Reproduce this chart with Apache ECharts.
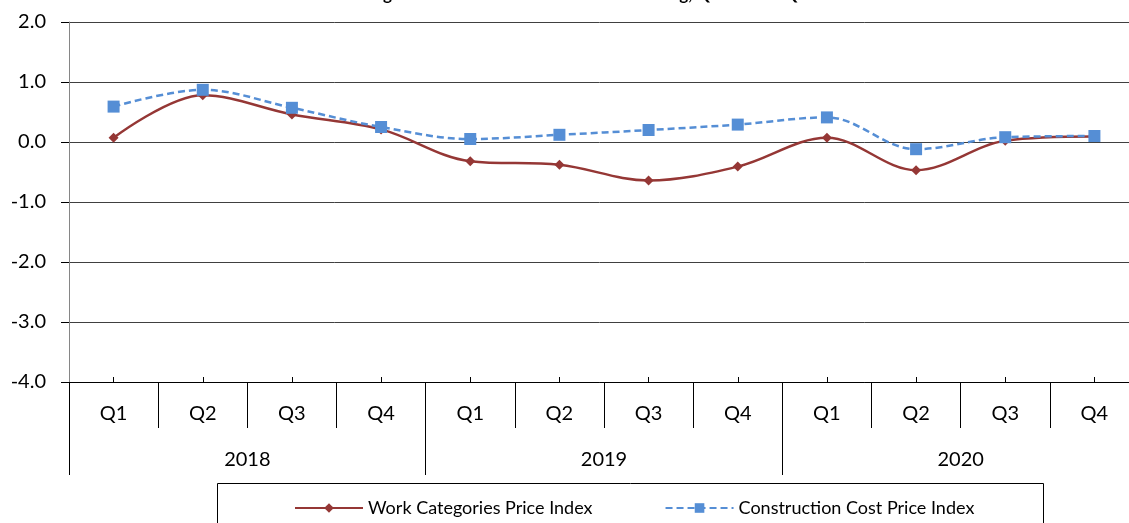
<!DOCTYPE html>
<html>
<head>
<meta charset="utf-8">
<script src="https://cdn.jsdelivr.net/npm/echarts@6/dist/echarts.min.js"></script>
<style>
  html, body { margin: 0; padding: 0; background: #fff; }
  #chart { width: 1129px; height: 523px; }
</style>
</head>
<body>
<div id="chart"></div>
<script>
// quarters and years (two-level category axis)
var quarters = ['Q1', 'Q2', 'Q3', 'Q4', 'Q1', 'Q2', 'Q3', 'Q4', 'Q1', 'Q2', 'Q3', 'Q4'];
var years = ['2018', '2019', '2020'];

// rate of change, %
var workCategories = [0.07, 0.78, 0.46, 0.21, -0.32, -0.38, -0.64, -0.41, 0.07, -0.47, 0.02, 0.09];
var constructionCost = [0.59, 0.87, 0.57, 0.25, 0.05, 0.12, 0.20, 0.29, 0.41, -0.12, 0.08, 0.10];

var font = 'Lato, "Open Sans", sans-serif';

var chart = echarts.init(document.getElementById('chart'));

chart.setOption({
  animation: false,
  title: {
    text: 'Rate of Change of Price Index for Residential Building, Quarter on Quarter',
    left: 'center',
    top: -19,
    textStyle: { fontFamily: font, fontSize: 17, fontWeight: 'bold', color: '#000' }
  },
  grid: { left: 69, width: 1070, top: 22, bottom: 141, outerBoundsMode: 'none' },
  legend: {
    left: 289,
    top: 494,
    itemWidth: 68,
    itemHeight: 12,
    itemGap: 72,
    textStyle: { fontFamily: font, fontSize: 18, color: '#000' },
    data: ['Work Categories Price Index', 'Construction Cost Price Index']
  },
  graphic: [{
    type: 'rect',
    shape: { x: 217.5, y: 483.5, width: 826, height: 60 },
    style: { fill: 'none', stroke: '#000', lineWidth: 1 }
  }],
  xAxis: [
    {
      type: 'category',
      data: quarters,
      position: 'bottom',
      boundaryGap: true,
      axisLine: { show: true, onZero: false, lineStyle: { color: '#000', width: 1 } },
      axisTick: { show: true, interval: 0, length: 46, lineStyle: { color: '#000' } },
      axisLabel: { interval: 0, margin: 22, fontFamily: font, fontSize: 20, color: '#000' },
      splitLine: { show: false }
    },
    {
      type: 'category',
      data: years,
      position: 'bottom',
      boundaryGap: true,
      axisLine: { show: false, onZero: false },
      axisTick: { show: true, interval: 0, length: 93, lineStyle: { color: '#000' } },
      axisLabel: { interval: 0, margin: 68, fontFamily: font, fontSize: 20, color: '#000' },
      splitLine: { show: false }
    },
    {
      type: 'category',
      data: quarters,
      position: 'bottom',
      boundaryGap: true,
      axisLine: { show: false, onZero: false },
      axisTick: { show: true, inside: true, alignWithLabel: true, interval: 0, length: 5, lineStyle: { color: '#000' } },
      axisLabel: { show: false },
      splitLine: { show: false }
    }
  ],
  yAxis: {
    type: 'value',
    min: -4,
    max: 2,
    interval: 1,
    axisLine: { show: true, lineStyle: { color: '#868686', width: 1 } },
    axisTick: { show: true, length: 8, lineStyle: { color: '#000' } },
    axisLabel: {
      margin: 23,
      fontFamily: font,
      fontSize: 20,
      color: '#000',
      formatter: function (v) { return v.toFixed(1); }
    },
    splitLine: { show: true, lineStyle: { color: '#404040', width: 1 } }
  },
  series: [
    {
      name: 'Work Categories Price Index',
      type: 'line',
      data: workCategories,
      smooth: 0.35,
      symbol: 'diamond',
      symbolSize: 10,
      itemStyle: { color: '#953735' },
      lineStyle: { color: '#953735', width: 2.5 }
    },
    {
      name: 'Construction Cost Price Index',
      type: 'line',
      data: constructionCost,
      smooth: 0.35,
      symbol: 'rect',
      symbolSize: 12,
      itemStyle: { color: '#558ED5' },
      lineStyle: { color: '#558ED5', width: 2.5, type: [7, 4] }
    }
  ]
});
</script>
</body>
</html>
